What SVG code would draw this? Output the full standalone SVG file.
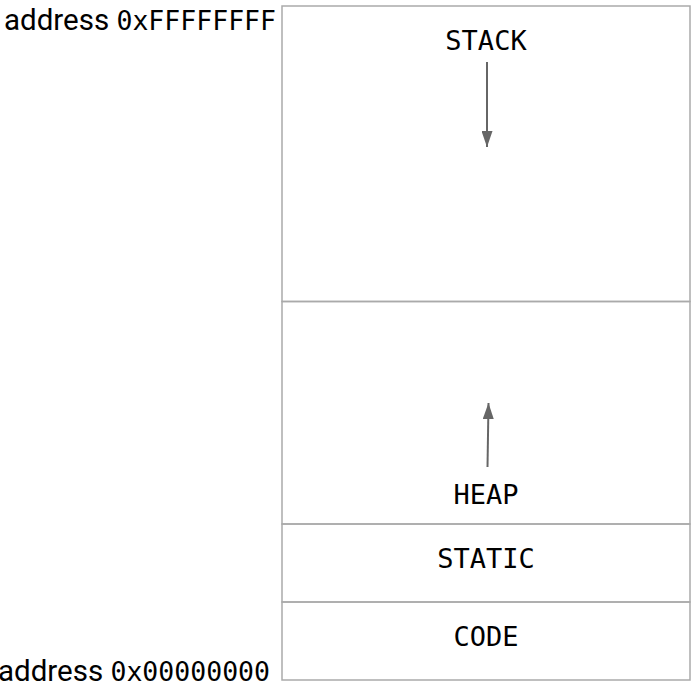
<svg xmlns="http://www.w3.org/2000/svg" width="696" height="686" viewBox="0 0 696 686">
<style>
.box{fill:none;stroke:#aaaaaa;stroke-width:1.5}
.lbl{font-family:"DejaVu Sans Mono",monospace;font-size:27px;fill:#000;text-anchor:middle}
.addr{font-family:"Roboto","Liberation Sans",sans-serif;font-size:29.5px;fill:#000;text-anchor:end}
.mono{font-family:"DejaVu Sans Mono",monospace;font-size:26.5px}
.arr{stroke:#666666;stroke-width:2;fill:none;marker-end:url(#ah)}
</style>
<defs>
<marker id="ah" viewBox="0 0 16 11" refX="16" refY="5.5" markerWidth="16" markerHeight="11" markerUnits="userSpaceOnUse" orient="auto">
<path d="M0,0 L16,5.5 L0,11 z" fill="#666666"/>
</marker>
</defs>
<rect x="0" y="0" width="696" height="686" fill="#fff"/>
<g id="stack"><rect class="box" x="282" y="6" width="408" height="295.5"/><text class="lbl" x="486" y="50">STACK</text></g>
<g id="heap"><rect class="box" x="282" y="301.5" width="408" height="222.5"/><text class="lbl" x="486" y="504">HEAP</text></g>
<g id="static"><rect class="box" x="282" y="524" width="408" height="78"/><text class="lbl" x="486" y="568">STATIC</text></g>
<g id="code"><rect class="box" x="282" y="602" width="408" height="78"/><text class="lbl" x="486" y="646">CODE</text></g>
<g id="labels">
<text class="addr" x="276" y="30">address <tspan class="mono">0xFFFFFFFF</tspan></text>
<text class="addr" x="270" y="681">address <tspan class="mono">0x00000000</tspan></text>
</g>
<g id="connectors">
<line class="arr" x1="487" y1="62" x2="487" y2="147"/>
<line class="arr" x1="487.5" y1="467" x2="488.5" y2="403"/>
</g>
</svg>
